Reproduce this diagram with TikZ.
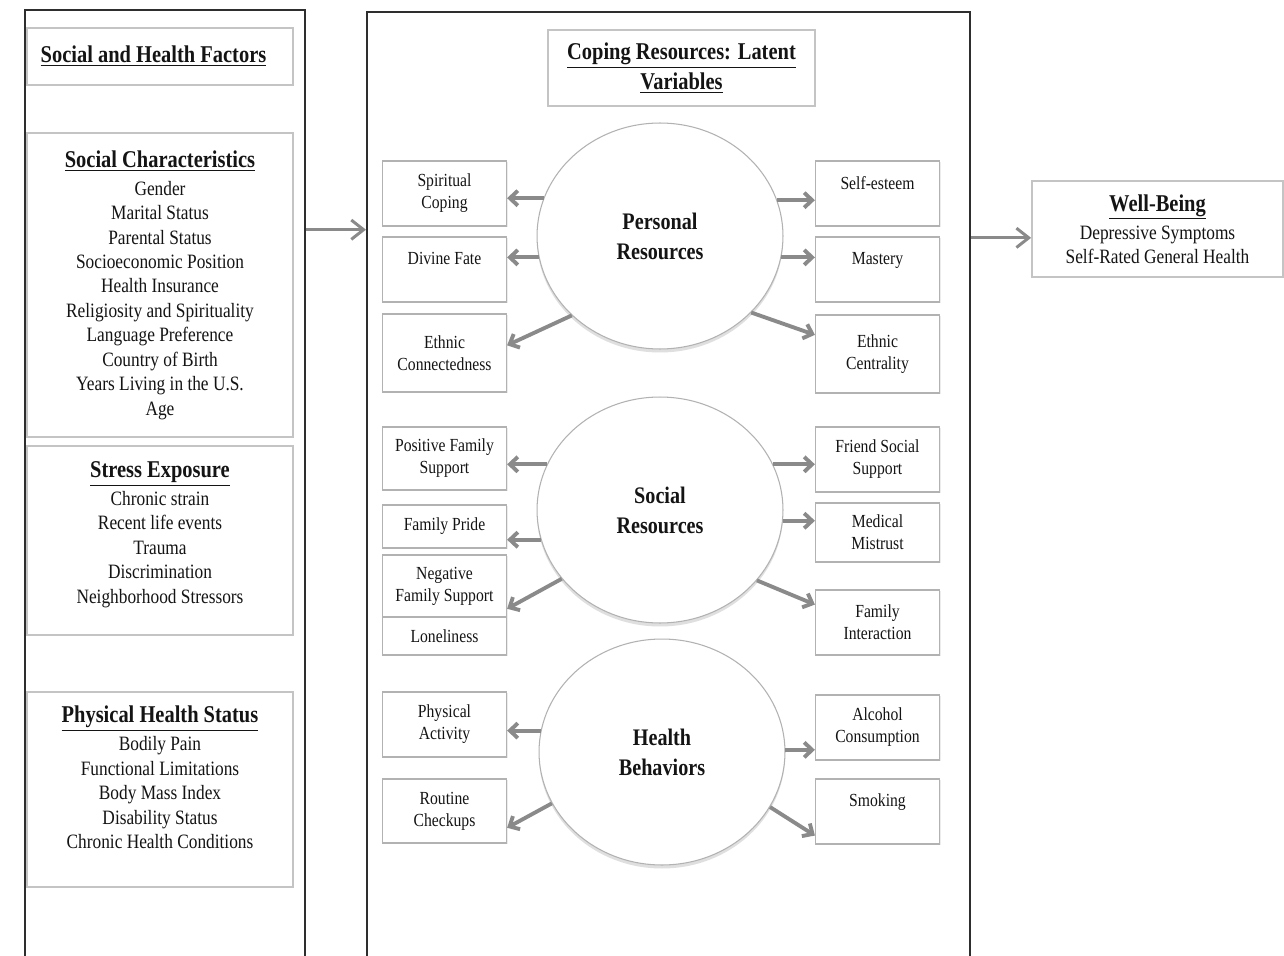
\documentclass[tikz,border=0pt]{standalone}
\usepackage{fontspec}
\setmainfont{Liberation Serif}[FakeStretch=0.85]
\usetikzlibrary{arrows.meta,shapes.geometric,shadows}

\definecolor{bordgris}{HTML}{B2B2B2}
\definecolor{blocgris}{HTML}{C4C4C4}
\definecolor{flechegris}{HTML}{8A8A8A}
\definecolor{cadrenoir}{HTML}{2E2E2E}
\definecolor{encre}{HTML}{141414}

\newcommand{\titre}[1]{\underline{\textbf{\fontsize{13.7}{16}\selectfont #1}}}

\tikzset{
  grandcadre/.style={draw=cadrenoir, line width=1.2pt, inner sep=0pt},
  bloc/.style={draw=blocgris, line width=1pt, fill=white, inner sep=0pt,
    minimum width=5.32cm, align=center, text=encre,
    font=\fontsize{11.6}{13.9}\selectfont},
  petit/.style={draw=bordgris, line width=0.7pt, fill=white, inner sep=0pt,
    minimum width=2.48cm, align=center, text=encre,
    font=\fontsize{10.5}{12.5}\selectfont,
    drop shadow={shadow xshift=0.7pt, shadow yshift=-0.7pt, opacity=0.15}},
  rond/.style={ellipse, draw=bordgris, line width=0.6pt, fill=white, inner sep=0pt,
    minimum width=4.92cm, minimum height=4.52cm, align=center, text=encre,
    font=\bfseries\fontsize{13.5}{17}\selectfont,
    drop shadow={shadow xshift=0pt, shadow yshift=-2pt, opacity=0.25}},
  fleche/.style={draw=flechegris, line width=2.2pt,
    -{Straight Barb[length=4.5pt, width=8.5pt]}},
  grossefleche/.style={draw=flechegris, line width=1.7pt,
    -{Straight Barb[length=7pt, width=11pt]}}
}

\begin{document}
\begin{tikzpicture}[x=0.02cm, y=-0.02cm]
    % Cadrage de l'image
    \clip (0,0) rectangle (1284,956);
    \fill[white] (0,0) rectangle (1284,956);

    % Les deux grands cadres
    \node[grandcadre, minimum width=5.6cm, minimum height=19.4cm] (gauche) at (165,495) {};
    \node[grandcadre, minimum width=12.06cm, minimum height=19.36cm] (milieu) at (668.5,496) {};

    % Colonne de gauche
    \node[bloc, minimum height=1.14cm] (facteurs) at (160,56.5) {\titre{Social and Health Factors}\hspace*{0.26cm}};
    \node[bloc, minimum height=6.08cm] (sociales) at (160,285) {\titre{Social Characteristics}\\[2pt]
        Gender\\ Marital Status\\ Parental Status\\ Socioeconomic Position\\ Health Insurance\\
        Religiosity and Spirituality\\ Language Preference\\ Country of Birth\\
        Years Living in the U.S.\\ Age};
    \node[bloc, minimum height=3.78cm] (stress) at (160,540.5) {\titre{Stress Exposure}\\[2pt]
        Chronic strain\\ Recent life events\\ Trauma\\ Discrimination\\ Neighborhood Stressors\\[-4.5pt]~};
    \node[bloc, minimum height=3.9cm] (physique) at (160,789.5) {\titre{Physical Health Status}\\[2pt]
        Bodily Pain\\ Functional Limitations\\ Body Mass Index\\ Disability Status\\ Chronic Health Conditions\\~};

    % Titre du cadre central
    \node[bloc, minimum width=5.34cm, minimum height=1.52cm, font=\bfseries\fontsize{13.7}{17}\selectfont]
        (coping) at (681.5,68) {\underline{Coping Resources: Latent}\\ \underline{Variables}};

    % Variables latentes
    \node[rond] (perso) at (660,236) {Personal\\Resources};
    \node[rond] (social) at (660,510) {Social\\Resources};
    \node[rond] (sante) at (662,752) {Health\\Behaviors};

    % Boites de gauche
    \foreach \nom/\y/\h/\txt in {
        spirituel/193.5/1.3/{Spiritual\\Coping},
        divin/269.5/1.3/{Divine Fate\\~},
        connexion/353/1.56/{Ethnic\\Connectedness},
        positif/458.5/1.26/{Positive Family\\Support},
        fierte/526.5/0.86/{Family Pride},
        negatif/586/1.24/{Negative\\Family Support},
        solitude/636/0.76/{Loneliness},
        activite/724.5/1.3/{Physical\\Activity},
        bilan/811/1.28/{Routine\\Checkups}}
        \node[petit, minimum height=\h cm] (\nom) at (444.5,\y) {\txt};

    % Boites de droite
    \foreach \nom/\y/\h/\txt in {
        estime/193.5/1.3/{Self-esteem\\~},
        maitrise/269.5/1.3/{Mastery\\~},
        centralite/354/1.56/{Ethnic\\Centrality},
        amis/459.5/1.3/{Friend Social\\Support},
        mefiance/532.5/1.18/{Medical\\Mistrust},
        interaction/622.5/1.3/{Family\\Interaction},
        alcool/727.5/1.3/{Alcohol\\Consumption},
        tabac/811.5/1.3/{Smoking\\~}}
        \node[petit, minimum height=\h cm] (\nom) at (877.5,\y) {\txt};

    % Bien-etre
    \node[bloc, minimum width=5.02cm, minimum height=1.92cm] (bienetre) at (1157.5,229) {\titre{Well-Being}\\[2pt]
        Depressive Symptoms\\ Self-Rated General Health};

    % Fleches des ressources personnelles
    \draw[fleche] (perso.162) -- (spirituel.east |- perso.162);
    \draw[fleche] (perso.190) -- (divin.east |- perso.190);
    \draw[fleche] (perso.222) -- (connexion.7);
    \draw[fleche] (perso.17) -- (estime.west |- perso.17);
    \draw[fleche] (perso.350) -- (maitrise.west |- perso.350);
    \draw[fleche] (perso.320) -- (centralite.163);

    % Fleches des ressources sociales
    \draw[fleche] (social.158) -- (positif.east |- social.158);
    \draw[fleche] (social.194) -- (fierte.east |- social.194);
    \draw[fleche] (social.215) -- (negatif.340);
    \draw[fleche] (social.22) -- (amis.west |- social.22);
    \draw[fleche] (social.355) -- (mefiance.west |- social.355);
    \draw[fleche] (social.324) -- (interaction.164);

    % Fleches des comportements de sante
    \draw[fleche] (sante.170) -- (activite.east |- sante.170);
    \draw[fleche] (sante.205) -- (bilan.345);
    \draw[fleche] (sante.1) -- (alcool.west |- sante.1);
    \draw[fleche] (sante.333) -- (tabac.201);

    % Fleches entre les cadres
    \draw[grossefleche] (gauche.62.24) -- (milieu.west |- gauche.62.24);
    \draw[grossefleche] (milieu.east |- bienetre.184) -- (bienetre.184);
\end{tikzpicture}
\end{document}
